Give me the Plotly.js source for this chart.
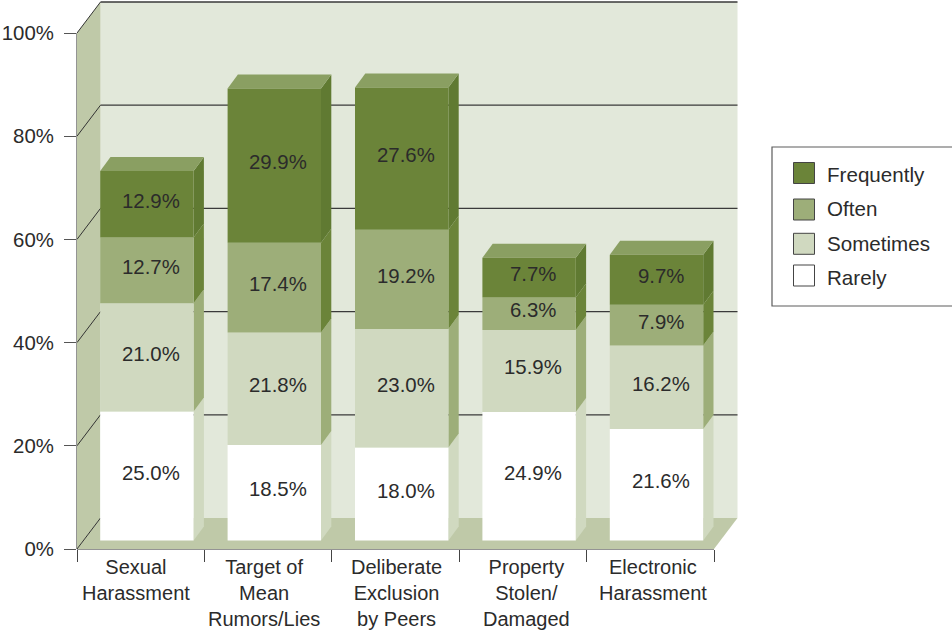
<!DOCTYPE html>
<html>
<head>
<meta charset="utf-8">
<script src="https://cdn.plot.ly/plotly-3.0.1.min.js"></script>
<style>html,body{margin:0;padding:0;background:#fff}#chart{width:952px;height:630px}</style>
</head>
<body>
<div id="chart"></div>
<script>
var categories = ["Sexual<br>Harassment", "Target of<br>Mean<br>Rumors/Lies", "Deliberate<br>Exclusion<br>by Peers", "Property<br>Stolen/<br>Damaged", "Electronic<br>Harassment"];
var seriesNames = ["Rarely", "Sometimes", "Often", "Frequently"];
var rarely = [25.0, 18.5, 18.0, 24.9, 21.6];
var sometimes = [21.0, 21.8, 23.0, 15.9, 16.2];
var often = [12.7, 17.4, 19.2, 6.3, 7.9];
var frequently = [12.9, 29.9, 27.6, 7.7, 9.7];
var yTicks = [0, 20, 40, 60, 80, 100];
var yTickText = ["0%", "20%", "40%", "60%", "80%", "100%"];

var seriesValues = [rarely, sometimes, often, frequently];
var frontColors = ["#ffffff", "#d0d9c0", "#9dae79", "#6b8439"];
var sideColors = ["#d0d9c0", "#9dae79", "#6b8439", "#607a32"];
var topColor = "#8a9f62";
var textColor = "#2b2b2b";
var FONT = "'Liberation Sans', Arial, Helvetica, sans-serif";
var labelNudge = [-5, -4, 1, 4, 3];

// pixel frame of the plot
var L = 77, T = 0, B = 549, R = 740;
var pxPerCat = 127.4, pxPerPct = 5.16;
var cx = function (px) { return px / pxPerCat; };
var cy = function (px) { return px / pxPerPct; };
var xRange = [-0.5, -0.5 + cx(R - L)];
var yRange = [0, cy(B - T)];
var X0 = -0.5, X1 = 4.5;
var wallDx = cx(23.5), wallDy = cy(31);
var barOffset = cx(23.2), barWidth = cx(93.4);
var baseLift = cy(8.5);
var sideDx = cx(10.3), sideDy = cy(14);
var px = function (p) { return (p - L) / (R - L); };
var py = function (p) { return (B - p) / (B - T); };

function poly(pts) {
  return "M" + pts.map(function (p) { return p[0] + "," + p[1]; }).join("L") + "Z";
}
var shapes = [];
function fillPath(pts, color) {
  shapes.push({type: "path", xref: "x", yref: "y", layer: "below", path: poly(pts), fillcolor: color, line: {width: 0}});
}
// walls and floor
fillPath([[X0 + wallDx, 0 + wallDy], [X1 + wallDx, 0 + wallDy], [X1 + wallDx, 100 + wallDy], [X0 + wallDx, 100 + wallDy]], "#e2e8da");
fillPath([[X0, 0], [X0 + wallDx, wallDy], [X0 + wallDx, 100 + wallDy], [X0, 100]], "#bfc9a8");
fillPath([[X0, 0], [X1, 0], [X1 + wallDx, wallDy], [X0 + wallDx, wallDy]], "#bfc9a8");
// grid lines: diagonal on side wall, horizontal on back wall
yTicks.forEach(function (v) {
  shapes.push({type: "line", xref: "x", yref: "y", layer: "below", x0: X0, y0: v, x1: X0 + wallDx, y1: v + wallDy, line: {color: "#333333", width: 1}});
  if (v > 0) shapes.push({type: "line", xref: "x", yref: "y", layer: "below", x0: X0 + wallDx, y0: v + wallDy, x1: X1 + wallDx, y1: v + wallDy, line: {color: "#3a3a3a", width: 1.3}});
});
// frame lines
shapes.push({type: "line", xref: "paper", yref: "y", layer: "below", x0: 0, x1: 0, y0: 0, y1: 100, line: {color: "#707070", width: 1.5}});
shapes.push({type: "line", xref: "x", yref: "paper", layer: "below", x0: X0, x1: X1, y0: 0, y1: 0, line: {color: "#707070", width: 1.5}});

// bar traces, bar sides, tops and value labels
var annotations = [];
var traces = [];
var cum = categories.map(function () { return baseLift; });
seriesValues.forEach(function (vals, s) {
  var bases = cum.slice();
  traces.push({
    type: "bar", name: seriesNames[s], x: categories, y: vals, base: bases,
    width: barWidth, offset: barOffset - 0.5,
    marker: {color: frontColors[s], line: {width: 0}}, showlegend: false, hoverinfo: "skip"
  });
  vals.forEach(function (v, i) {
    var right = i - 0.5 + barOffset + barWidth;
    var b = bases[i], t = b + v;
    fillPath([[right, b], [right + sideDx, b + sideDy], [right + sideDx, t + sideDy], [right, t]], sideColors[s]);
    annotations.push({
      xref: "x", yref: "y", x: i - 0.5 + barOffset + barWidth / 2, y: b + v / 2,
      xshift: 4, yshift: 3.5, text: v.toFixed(1) + "%", showarrow: false, xanchor: "center", yanchor: "middle",
      font: {family: FONT, size: 20.4, color: textColor}
    });
    cum[i] = t;
  });
});
cum.forEach(function (t, i) {
  var left = i - 0.5 + barOffset, right = left + barWidth;
  fillPath([[left, t], [right, t], [right + sideDx, t + sideDy], [left + sideDx, t + sideDy]], topColor);
});

// category labels, placed under each category through the x axis
categories.forEach(function (c, i) {
  annotations.push({
    xref: "x", yref: "paper", x: i, y: py(553.5), xshift: labelNudge[i], text: c, showarrow: false,
    xanchor: "center", yanchor: "top", align: "center",
    font: {family: FONT, size: 20, color: textColor}
  });
});

// legend box
shapes.push({type: "rect", xref: "paper", yref: "paper", layer: "above",
  x0: px(772), x1: px(956), y0: py(306), y1: py(147), fillcolor: "#ffffff", line: {color: "#5c5c5c", width: 1.2}});
var legendCenters = [173, 209.5, 243.8, 275.5];
var legendText = [175, 208.3, 243.5, 277.3];
[3, 2, 1, 0].forEach(function (s, k) {
  shapes.push({type: "rect", xref: "paper", yref: "paper", layer: "above",
    x0: px(793.5), x1: px(814.5), y0: py(legendCenters[k] + 10.5), y1: py(legendCenters[k] - 10.5),
    fillcolor: frontColors[s], line: {color: "#444444", width: 1}});
  annotations.push({xref: "paper", yref: "paper", x: px(827), y: py(legendText[k]), text: seriesNames[s],
    showarrow: false, xanchor: "left", yanchor: "middle", xshift: -2,
    font: {family: FONT, size: 20.6, color: textColor}});
});

var layout = {
  width: 952, height: 630,
  margin: {l: L, r: 952 - R, t: T, b: 630 - B, pad: 0},
  paper_bgcolor: "#ffffff", plot_bgcolor: "rgba(0,0,0,0)",
  barmode: "overlay", showlegend: false,
  font: {family: FONT, size: 20, color: textColor},
  xaxis: {
    type: "category", range: xRange, tickson: "boundaries", ticks: "outside", ticklen: 12, tickwidth: 1,
    tickcolor: "#444444", showgrid: false, zeroline: false, showline: false, showticklabels: false,
    automargin: false, fixedrange: true
  },
  yaxis: {
    range: yRange, tickvals: yTicks, ticktext: yTickText, ticks: "outside", ticklen: 12, tickwidth: 1,
    tickcolor: "#555555", showgrid: false, zeroline: false, showline: false, automargin: false, fixedrange: true,
    ticklabelstandoff: 6,
    tickfont: {family: FONT, size: 20.4, color: textColor}
  },
  shapes: shapes,
  annotations: annotations
};
Plotly.newPlot("chart", traces, layout, {displayModeBar: false, staticPlot: true});
</script>
</body>
</html>
